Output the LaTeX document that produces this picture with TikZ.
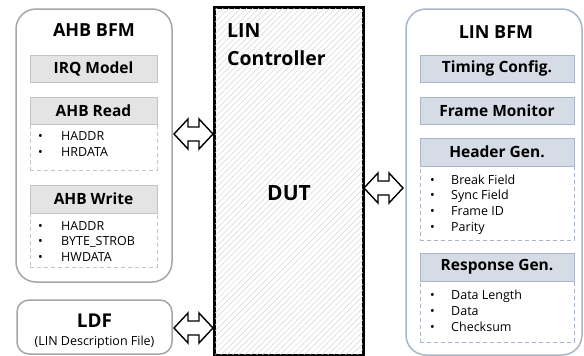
\documentclass[tikz,border=0pt]{standalone}
\usepackage{fontspec}
\setmainfont{Open Sans}
\usetikzlibrary{patterns.meta}
\definecolor{gborder}{HTML}{A6A6A6}
\definecolor{gfill}{HTML}{E4E4E4}
\definecolor{gline}{HTML}{C4C4C4}
\definecolor{bborder}{HTML}{A9B6C9}
\definecolor{bfill}{HTML}{D6DCE5}
\begin{document}
\begin{tikzpicture}[x=1pt,y=-1pt,
  outerbox/.style={draw=#1, line width=1.5pt, rounded corners=20pt, fill=white},
  ldfbox/.style={draw=gborder, line width=1.5pt, rounded corners=12pt, fill=white},
  ghdr/.style={draw=gline, fill=gfill, line width=0.8pt, inner sep=0pt,
    font=\bfseries\fontsize{15.5}{17}\selectfont},
  bhdr/.style={draw=bborder, fill=bfill, line width=0.8pt, inner sep=0pt,
    font=\bfseries\fontsize{15.5}{17}\selectfont},
  dashbox/.style={draw=#1, line width=0.8pt, dash pattern=on 4pt off 3pt, inner sep=0pt},
  items/.style={anchor=north west, inner sep=0pt, align=left,
    font=\fontsize{12.5}{15.8}\selectfont},
  title/.style={inner sep=0pt, font=\bfseries\fontsize{18}{20}\selectfont},
  dblarrow/.style={draw=black, line width=1.4pt, fill=white, line join=miter}
]
\useasboundingbox (0,0) rectangle (584,356);

% ---------- AHB BFM ----------
\node[outerbox=gborder, minimum width=156pt, minimum height=273pt] (ahb) at (94,145.5) {};
\node[title] (ahbt) at (94,30) {AHB BFM};
\node[ghdr, minimum width=127pt, minimum height=27pt] (irq) at (93.5,68.5) {IRQ Model};

\node[dashbox=gline, minimum width=127pt, minimum height=46pt] (rdb) at (93.5,147) {};
\node[ghdr, minimum width=127pt, minimum height=27pt] (rdh) at (93.5,110.5) {AHB Read};
\node[items] (rdi) at (38,131.5) {\makebox[23pt][l]{\textbullet}HADDR\\\makebox[23pt][l]{\textbullet}HRDATA};

\node[dashbox=gline, minimum width=127pt, minimum height=54pt] (wrb) at (93.5,240) {};
\node[ghdr, minimum width=127pt, minimum height=28pt] (wrh) at (93.5,199) {AHB Write};
\node[items] (wri) at (38,221) {\makebox[23pt][l]{\textbullet}HADDR\\\makebox[23pt][l]{\textbullet}BYTE\_STROB\\\makebox[23pt][l]{\textbullet}HWDATA};

% ---------- LDF ----------
\node[ldfbox, minimum width=155pt, minimum height=54pt] (ldf) at (94.5,327) {};
\node[inner sep=0pt, font=\bfseries\fontsize{19}{21}\selectfont] (ldft) at (94.5,321) {LDF};
\node[inner sep=0pt, font=\fontsize{12.5}{14}\selectfont] (ldfs) at (94.5,342) {(LIN Description File)};

% ---------- DUT ----------
\node[draw=black, line width=1.6pt, fill=white, minimum width=148pt, minimum height=347pt] (dutbg) at (289,181.5) {};
\path[pattern={Lines[angle=45,distance=4.2pt,line width=0.5pt]}, pattern color=black!16]
  (dutbg.north west) rectangle (dutbg.south east);
\draw[line width=1.6pt] (dutbg.north west) rectangle (dutbg.south east);
\node[anchor=north west, align=left, inner sep=0pt,
  font=\bfseries\fontsize{19.5}{28}\selectfont] (lin) at (227,23) {LIN\\Controller};
\node[inner sep=0pt, font=\bfseries\fontsize{21}{23}\selectfont] (dut) at (289,193) {DUT};

% ---------- LIN BFM ----------
\node[outerbox=bborder, minimum width=176pt, minimum height=346pt] (lbfm) at (494,182) {};
\node[title] (lbfmt) at (496,32) {LIN BFM};
\node[bhdr, minimum width=154pt, minimum height=27pt] (tim) at (497,68.5) {Timing Config.};
\node[bhdr, minimum width=154pt, minimum height=27pt] (frm) at (497,110.5) {Frame Monitor};

\node[dashbox=bborder, minimum width=154pt, minimum height=74pt] (hgb) at (497,203) {};
\node[bhdr, minimum width=154pt, minimum height=28pt] (hgh) at (497,152) {Header Gen.};
\node[items] (hgi) at (430,174.5) {\makebox[21pt][l]{\textbullet}Break Field\\\makebox[21pt][l]{\textbullet}Sync Field\\\makebox[21pt][l]{\textbullet}Frame ID\\\makebox[21pt][l]{\textbullet}Parity};

\node[dashbox=bborder, minimum width=154pt, minimum height=61pt] (rgb) at (497,311.5) {};
\node[bhdr, minimum width=154pt, minimum height=28pt] (rgh) at (497,267) {Response Gen.};
\node[items] (rgi) at (430,290) {\makebox[21pt][l]{\textbullet}Data Length\\\makebox[21pt][l]{\textbullet}Data\\\makebox[21pt][l]{\textbullet}Checksum};

% ---------- arrows ----------
\coordinate (a1) at (174,134);
\coordinate (a2) at (174,328);
\coordinate (a3) at (364,188);
\foreach \c in {a1,a2,a3} {
  \draw[dblarrow] (\c) -- ++(14,-15) -- ++(0,8) -- ++(11,0) -- ++(0,-8) -- ++(14,15)
     -- ++(-14,15) -- ++(0,-8) -- ++(-11,0) -- ++(0,8) -- cycle;
}
\end{tikzpicture}
\end{document}
